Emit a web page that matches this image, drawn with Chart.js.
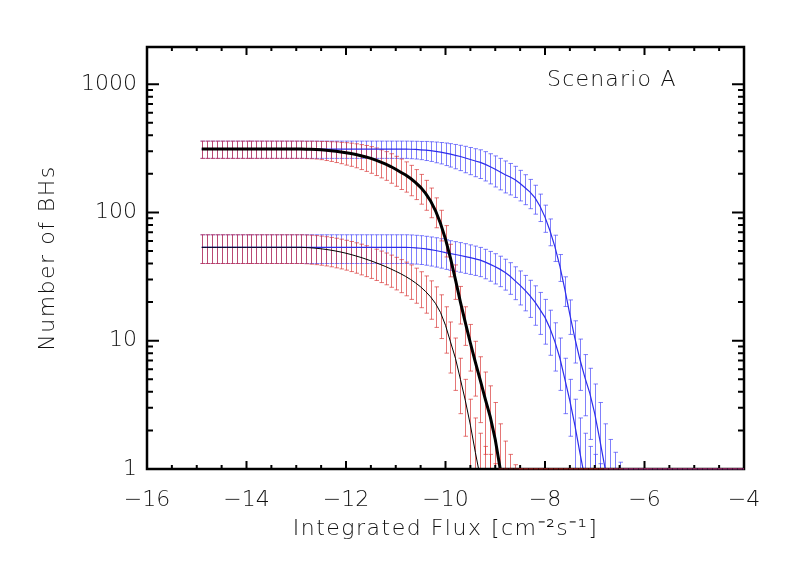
<!DOCTYPE html>
<html>
<head>
<meta charset="utf-8">
<script src="https://cdn.jsdelivr.net/npm/chart.js@4/dist/chart.umd.min.js"></script>
<style>
  html, body { margin: 0; padding: 0; background: #fff; }
  #wrap { width: 789px; height: 564px; }
</style>
</head>
<body>
<div id="wrap"><canvas id="c" width="789" height="564"></canvas></div>
<script>
// ---- data ----
const fluxGrid = [
  -14.9,-14.8,-14.7,-14.6,-14.5,-14.4,-14.3,-14.2,-14.1,-14.0,
  -13.9,-13.8,-13.7,-13.6,-13.5,-13.4,-13.3,-13.2,-13.1,-13.0,
  -12.9,-12.8,-12.7,-12.6,-12.5,-12.4,-12.3,-12.2,-12.1,-12.0,
  -11.9,-11.8,-11.7,-11.6,-11.5,-11.4,-11.3,-11.2,-11.1,-11.0,
  -10.9,-10.8,-10.7,-10.6,-10.5,-10.4,-10.3,-10.2,-10.1,-10.0,
  -9.9,-9.8,-9.7,-9.6,-9.5,-9.4,-9.3,-9.2,-9.1,-9.0,
  -8.9,-8.8,-8.7,-8.6,-8.5,-8.4,-8.3,-8.2,-8.1,-8.0,
  -7.9,-7.8,-7.7,-7.6,-7.5,-7.4,-7.3,-7.2,-7.1,-7.0,
  -6.9,-6.8,-6.7,-6.6,-6.5,-6.4,-6.3,-6.2,-6.1,-6.0,
  -5.9,-5.8,-5.7,-5.6,-5.5,-5.4,-5.3,-5.2,-5.1,-5.0,
  -4.9,-4.8,-4.7,-4.6,-4.5,-4.4,-4.3,-4.2,-4.1,-4.0
];

// thick black curve (red error bars)
const blackHigh = [
  312,312,312,312,312,312,312,312,312,312,
  312,312,312,312,312,312,312,312,312,312,
  312,311,311,310,308,306,303,300,296,292,
  288,283,277,271,264,256,247,238,228,217,
  206,196,184,171,157,141,123,103,82,62,
  44,30,20,13.8,9.6,6.8,4.9,3.5,2.55,1.7,
  1.0,0.5,0.3,0.15,0,0,0,0,0,0,
  0,0,0,0,0,0,0,0,0,0,
  0,0,0,0,0,0,0,0,0,0,
  0,0,0,0,0,0,0,0,0,0,
  0,0,0,0,0,0,0,0,0,0
];
const blackHighErr = [
  48,48,48,48,48,48,48,48,48,48,
  48,48,48,48,48,48,48,48,48,48,
  48,48,48.5,49,50,52,53,55,56,58,
  59,60,61,62,62,62,61,60,59,57,
  55,52,49,45,41,37,32,27,22,17,
  12.5,9,6.5,4.6,3.8,3.1,2.6,2.2,1.9,1.6,
  1.25,1.15,1.0,0.93,0,0,0,0,0,0,
  0,0,0,0,0,0,0,0,0,0,
  0,0,0,0,0,0,0,0,0,0,
  0,0,0,0,0,0,0,0,0,0,
  0,0,0,0,0,0,0,0,0,0
];

// thin black curve (red error bars)
const blackLow = [
  53.5,53.5,53.5,53.5,53.5,53.5,53.5,53.5,53.5,53.5,
  53.5,53.5,53.5,53.5,53.5,53.5,53.5,53.5,53.5,53.5,
  53.5,53.3,53.0,52.6,52.1,51.5,50.8,50.0,49.1,48.1,
  47.0,45.8,44.6,43.3,42.0,40.6,39.2,37.8,36.3,34.8,
  33.3,31.7,30.0,28.2,26.3,24.2,22.0,19.5,16.6,13.2,
  9.8,7.3,5.0,3.4,2.2,1.35,0.85,0.5,0.3,0.15,
  0,0,0,0,0,0,0,0,0,0,
  0,0,0,0,0,0,0,0,0,0,
  0,0,0,0,0,0,0,0,0,0,
  0,0,0,0,0,0,0,0,0,0,
  0,0,0,0,0,0,0,0,0,0
];
const blackLowErr = [
  13.5,13.5,13.5,13.5,13.5,13.5,13.5,13.5,13.5,13.5,
  13.5,13.5,13.5,13.5,13.5,13.5,13.5,13.5,13.5,13.5,
  13.5,13.5,13.5,13.4,13.3,13.2,13.1,13.0,12.8,12.6,
  12.4,12.2,12.0,11.7,11.4,11.1,10.8,10.5,10.2,9.9,
  9.6,9.3,9.0,8.6,8.2,7.8,7.3,6.8,6.2,5.2,
  4.2,3.2,2.3,1.6,1.3,1.15,1.05,1.0,1.0,0.95,
  0,0,0,0,0,0,0,0,0,0,
  0,0,0,0,0,0,0,0,0,0,
  0,0,0,0,0,0,0,0,0,0,
  0,0,0,0,0,0,0,0,0,0,
  0,0,0,0,0,0,0,0,0,0
];

// upper blue curve (blue error bars)
const blueHigh = [
  312,312,312,312,312,312,312,312,312,312,
  312,312,312,312,312,312,312,312,312,312,
  312,312,312,312,312,312,312,312,312,312,
  312,312,312,312,312,312,312,312,312,312,
  312,312,311,310,308,306,303,299,295,290,
  285,279,273,266,259,252,246,237,227,217,
  207,197,189,180,168,156,144,130,112,92,
  72,54,38,25,16,10.5,7.2,5.2,3.9,2.7,
  1.7,1.05,0.6,0.35,0.2,0,0,0,0,0,
  0,0,0,0,0,0,0,0,0,0,
  0,0,0,0,0,0,0,0,0,0
];
const blueHighErr = [
  48,48,48,48,48,48,48,48,48,48,
  48,48,48,48,48,48,48,48,48,48,
  48,48,48,48,48,48,48,48,48,48,
  48,48,48,48,48,48,48,48,48,48,
  48,48,48.5,49,50,52,53,55,56,58,
  59,60,61,62,62,62,62,61,60,59,
  57,55,52,49,45,41,37,33,27,22,
  17,12.5,9,6.5,4.8,3.8,3.1,2.6,2.2,1.9,
  1.6,1.2,1.1,1.0,0.93,0,0,0,0,0,
  0,0,0,0,0,0,0,0,0,0,
  0,0,0,0,0,0,0,0,0,0
];

// lower blue curve (blue error bars)
const blueLow = [
  53.5,53.5,53.5,53.5,53.5,53.5,53.5,53.5,53.5,53.5,
  53.5,53.5,53.5,53.5,53.5,53.5,53.5,53.5,53.5,53.5,
  53.5,53.5,53.5,53.5,53.5,53.5,53.5,53.5,53.5,53.5,
  53.5,53.5,53.5,53.5,53.5,53.5,53.5,53.5,53.5,53.5,
  53.5,53.5,53.3,53.0,52.6,52.0,51.3,50.5,49.6,48.6,
  47.8,47.0,46.2,45.3,44.4,43.5,42.5,41.0,39.4,37.7,
  36.0,34.0,31.8,29.3,27.0,24.7,22.4,20.0,17.5,15.2,
  12.5,9.8,7.3,5.0,3.4,2.2,1.35,0.85,0.5,0.3,
  0.15,0,0,0,0,0,0,0,0,0,
  0,0,0,0,0,0,0,0,0,0,
  0,0,0,0,0,0,0,0,0,0
];
const blueLowErr = [
  13.5,13.5,13.5,13.5,13.5,13.5,13.5,13.5,13.5,13.5,
  13.5,13.5,13.5,13.5,13.5,13.5,13.5,13.5,13.5,13.5,
  13.5,13.5,13.5,13.5,13.5,13.5,13.5,13.5,13.5,13.5,
  13.5,13.5,13.5,13.5,13.5,13.5,13.5,13.5,13.5,13.5,
  13.5,13.5,13.5,13.4,13.3,13.2,13.1,13.0,12.8,12.6,
  12.4,12.2,12.0,11.8,11.5,11.2,10.9,10.6,10.3,10.0,
  9.6,9.2,8.8,8.4,8.0,7.6,7.2,6.8,6.3,5.8,
  4.8,4.0,3.2,2.3,1.6,1.3,1.15,1.05,1.0,1.0,
  0.95,0,0,0,0,0,0,0,0,0,
  0,0,0,0,0,0,0,0,0,0,
  0,0,0,0,0,0,0,0,0,0
];

// axes
const xMajorTicks = [-16, -14, -12, -10, -8, -6, -4];
const xTickLabels = ['\u221216', '\u221214', '\u221212', '\u221210', '\u22128', '\u22126', '\u22124'];
const xMinorTicks = [-15.5, -15, -14.5, -13.5, -13, -12.5, -11.5, -11, -10.5,
                     -9.5, -9, -8.5, -7.5, -7, -6.5, -5.5, -5, -4.5];
const yMajorTicks = [1, 10, 100, 1000];
const yTickLabels = ['1', '10', '100', '1000'];
const yMinorTicks = [2,3,4,5,6,7,8,9,20,30,40,50,60,70,80,90,200,300,400,500,600,700,800,900];
const xTitle = 'Integrated Flux [cm\u207B\u00B2s\u207B\u00B9]';
const yTitle = 'Number of BHs';
const panelLabel = 'Scenario A';

// ---- styles ----
const FONT = 'DejaVu Sans';
const RED_BAR = 'rgba(215,45,45,0.65)';
const BLUE_BAR = 'rgba(60,60,250,0.65)';
const BLUE_LINE = 'rgb(45,45,235)';

function pts(vals) { return fluxGrid.map((x, i) => ({ x: x, y: vals[i] })); }

function drawBars(chart, zeroOnly) {
  const { ctx, chartArea: a, scales: { x, y } } = chart;
  ctx.save();
  ctx.beginPath();
  ctx.rect(a.left, a.top - 1, a.right - a.left, a.bottom - a.top + 1.5);
  ctx.clip();
  ctx.lineWidth = 1;
  const sets = chart.data.datasets.slice().reverse();
  sets.forEach(ds => {
    if (!ds.errors) return;
    ctx.strokeStyle = ds.barColor;
    ds.data.forEach((p, i) => {
      const v = p.y, e = ds.errors[i];
      if (zeroOnly !== (v === 0)) return;
      const px = Math.round(x.getPixelForValue(p.x)) + 0.5;
      const hi = v + e, lo = v - e;
      const yHi = hi > 0 ? y.getPixelForValue(hi) : a.bottom;
      const yLo = lo > 0 ? y.getPixelForValue(lo) : a.bottom + 40;
      ctx.beginPath();
      if (!zeroOnly) {
        ctx.moveTo(px, yHi); ctx.lineTo(px, yLo);
      }
      ctx.moveTo(px - 2, yHi); ctx.lineTo(px + 2.5, yHi);
      ctx.moveTo(px - 2, yLo); ctx.lineTo(px + 2.5, yLo);
      ctx.stroke();
    });
  });
  ctx.restore();
}

function drawFrame(chart) {
  const { ctx, chartArea: a, scales: { x, y } } = chart;
  ctx.save();
  ctx.strokeStyle = '#000';
  ctx.lineWidth = 2;
  ctx.beginPath();
  xMajorTicks.forEach(v => {
    const px = x.getPixelForValue(v);
    ctx.moveTo(px, a.bottom); ctx.lineTo(px, a.bottom - 8);
    ctx.moveTo(px, a.top); ctx.lineTo(px, a.top + 8);
  });
  xMinorTicks.forEach(v => {
    const px = x.getPixelForValue(v);
    ctx.moveTo(px, a.bottom); ctx.lineTo(px, a.bottom - 4);
    ctx.moveTo(px, a.top); ctx.lineTo(px, a.top + 4);
  });
  yMajorTicks.forEach(v => {
    const py = y.getPixelForValue(v);
    ctx.moveTo(a.left, py); ctx.lineTo(a.left + 12, py);
    ctx.moveTo(a.right, py); ctx.lineTo(a.right - 12, py);
  });
  yMinorTicks.forEach(v => {
    const py = y.getPixelForValue(v);
    ctx.moveTo(a.left, py); ctx.lineTo(a.left + 6, py);
    ctx.moveTo(a.right, py); ctx.lineTo(a.right - 6, py);
  });
  ctx.stroke();
  ctx.lineWidth = 2.5;
  ctx.strokeRect(a.left, a.top, a.right - a.left, a.bottom - a.top);
  ctx.restore();
}

// widen letter spacing of the axis titles (Hershey-like look)
function spacedTitle(scale) {
  if (scale._spacedTitle) return;
  const orig = scale.drawTitle.bind(scale);
  scale.drawTitle = function () {
    const ctx = this.ctx;
    ctx.save();
    ctx.letterSpacing = '1.5px';
    orig();
    ctx.restore();
  };
  scale._spacedTitle = true;
}

const decorPlugin = {
  id: 'decor',
  beforeDraw(chart) {
    const ctx = chart.ctx;
    ctx.save();
    ctx.fillStyle = '#fff';
    ctx.fillRect(0, 0, chart.width, chart.height);
    ctx.restore();
  },
  beforeDatasetsDraw(chart) { drawBars(chart, false); },
  afterDatasetsDraw(chart) {
    drawFrame(chart);
    drawBars(chart, true);
    const ctx = chart.ctx;
    ctx.save();
    ctx.fillStyle = '#111';
    ctx.font = '300 22px "' + FONT + '"';
    ctx.letterSpacing = '1.2px';
    ctx.textAlign = 'left';
    ctx.textBaseline = 'alphabetic';
    ctx.fillText(panelLabel, 547, 86);
    ctx.restore();
  }
};

const tickFont = { family: FONT, size: 22, weight: '300' };

new Chart(document.getElementById('c'), {
  type: 'line',
  data: {
    datasets: [
      { label: 'high (black)', data: pts(blackHigh), errors: blackHighErr, barColor: RED_BAR,
        borderColor: '#000', borderWidth: 3 },
      { label: 'low (black)', data: pts(blackLow), errors: blackLowErr, barColor: RED_BAR,
        borderColor: '#000', borderWidth: 1 },
      { label: 'high (blue)', data: pts(blueHigh), errors: blueHighErr, barColor: BLUE_BAR,
        borderColor: BLUE_LINE, borderWidth: 1.2 },
      { label: 'low (blue)', data: pts(blueLow), errors: blueLowErr, barColor: BLUE_BAR,
        borderColor: BLUE_LINE, borderWidth: 1.2 }
    ]
  },
  options: {
    responsive: false,
    animation: false,
    devicePixelRatio: 1,
    layout: { padding: { left: 20, right: 45, top: 47, bottom: 20 } },
    elements: { point: { radius: 0 }, line: { tension: 0, fill: false } },
    plugins: { legend: { display: false }, tooltip: { enabled: false } },
    scales: {
      x: {
        type: 'linear', min: -16, max: -4,
        afterBuildTicks: s => { s.ticks = xMajorTicks.map(v => ({ value: v })); },
        afterFit: s => { s.height = 75; spacedTitle(s); },
        grid: { display: false, drawTicks: false },
        border: { display: false },
        ticks: {
          autoSkip: false, maxRotation: 0, padding: 18, color: '#111', font: tickFont,
          callback: (v, i) => xTickLabels[i]
        },
        title: { display: true, text: xTitle, color: '#111', font: tickFont, padding: { top: 0, bottom: 2 } }
      },
      y: {
        type: 'logarithmic', min: 1, max: 1950,
        afterBuildTicks: s => { s.ticks = yMajorTicks.map(v => ({ value: v })); },
        afterFit: s => { s.width = 127; spacedTitle(s); },
        grid: { display: false, drawTicks: false },
        border: { display: false },
        ticks: {
          autoSkip: false, padding: 10, color: '#111', font: tickFont,
          callback: (v, i) => yTickLabels[i]
        },
        title: { display: true, text: yTitle, color: '#111', font: tickFont, padding: { top: 15, bottom: 0 } }
      }
    }
  },
  plugins: [decorPlugin]
});
</script>
</body>
</html>
